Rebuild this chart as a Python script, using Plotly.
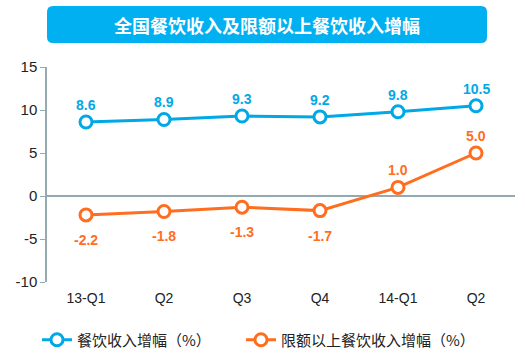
import plotly.graph_objects as go

categories = ["13-Q1", "Q2", "Q3", "Q4", "14-Q1", "Q2 "]
tick_text = ["13-Q1", "Q2", "Q3", "Q4", "14-Q1", "Q2"]
catering_growth = [8.6, 8.9, 9.3, 9.2, 9.8, 10.5]
above_limit_growth = [-2.2, -1.8, -1.3, -1.7, 1.0, 5.0]
y_ticks = [-10, -5, 0, 5, 10, 15]
y_tick_text = ["-10", "-5", "0", "5", "10", "15"]
series_names = ["餐饮收入增幅（%）", "限额以上餐饮收入增幅（%）"]
title_text = "全国餐饮收入及限额以上餐饮收入增幅"

BLUE = "#00A9E6"
ORANGE = "#FF6E1F"
AXIS = "#95AAB0"
FONT = "Liberation Sans, Arial, Noto Sans CJK SC"

W, H = 525, 355
L, R, T, B = 47, 10, 67, 73
pw, ph = W - L - R, H - T - B

def px(x):
    return (x - L) / pw

def py(y):
    return (H - B - y) / ph

fig = go.Figure()
fig.add_trace(go.Scatter(
    x=categories, y=catering_growth, name=series_names[0],
    mode="lines+markers", legend="legend",
    line=dict(color=BLUE, width=3),
    marker=dict(symbol="circle", size=12, color="white", line=dict(color=BLUE, width=3)),
    cliponaxis=False,
))
fig.add_trace(go.Scatter(
    x=categories, y=above_limit_growth, name=series_names[1],
    mode="lines+markers", legend="legend2",
    line=dict(color=ORANGE, width=3),
    marker=dict(symbol="circle", size=12, color="white", line=dict(color=ORANGE, width=3)),
    cliponaxis=False,
))

for c, v in zip(categories, catering_growth):
    fig.add_annotation(x=c, y=v, text=f"{v:.1f}", showarrow=False, yshift=17,
                       font=dict(color=BLUE, size=14, family=FONT, weight="bold"))
for c, v in zip(categories, above_limit_growth):
    fig.add_annotation(x=c, y=v, text=f"{v:.1f}", showarrow=False,
                       yshift=(-25 if v < 0 else 17),
                       font=dict(color=ORANGE, size=14, family=FONT, weight="bold"))

# rounded title box
x0, x1, y0, y1, r = 47, 487, 6, 43, 6
rx, ry = r / pw, r / ph
X0, X1, Y0, Y1 = px(x0), px(x1), py(y0), py(y1)
path = (f"M {X0+rx},{Y0} L {X1-rx},{Y0} Q {X1},{Y0} {X1},{Y0-ry} "
        f"L {X1},{Y1+ry} Q {X1},{Y1} {X1-rx},{Y1} L {X0+rx},{Y1} "
        f"Q {X0},{Y1} {X0},{Y1+ry} L {X0},{Y0-ry} Q {X0},{Y0} {X0+rx},{Y0} Z")
fig.add_shape(type="path", path=path, xref="paper", yref="paper",
              fillcolor="#00B0F0", line=dict(width=0), layer="above")
fig.add_annotation(text=title_text, xref="paper", yref="paper",
                   x=(X0 + X1) / 2, y=(Y0 + Y1) / 2, showarrow=False,
                   font=dict(color="white", size=18, family="Noto Sans CJK SC", weight="bold"),
                   xanchor="center", yanchor="middle")

legend_style = dict(orientation="h", xanchor="left", yanchor="middle",
                    font=dict(size=15, family="Noto Sans CJK SC, Liberation Sans", color="#222222"),
                    itemwidth=30, bgcolor="rgba(0,0,0,0)")

fig.update_layout(
    width=W, height=H,
    margin=dict(l=L, r=R, t=T, b=B, autoexpand=False),
    paper_bgcolor="white", plot_bgcolor="white",
    font=dict(family=FONT, size=14, color="#222222"),
    showlegend=True,
    legend=dict(x=px(37), y=py(340), **legend_style),
    legend2=dict(x=px(241), y=py(340), **legend_style),
    xaxis=dict(type="category", range=[-0.5, 5.5], tickvals=categories, ticktext=tick_text,
               showgrid=False, showline=False, zeroline=False, ticks="", automargin=False,
               ticklabelstandoff=6,
               tickfont=dict(size=14, color="#222222")),
    yaxis=dict(range=[-10, 15], tickvals=y_ticks, ticktext=y_tick_text, showgrid=False,
               showline=True, linecolor=AXIS, linewidth=1.5, automargin=False,
               ticks="outside", ticklen=5, tickcolor=AXIS,
               zeroline=True, zerolinecolor=AXIS, zerolinewidth=1.5,
               tickfont=dict(size=15, color="#222222")),
)

fig.write_html("out.html", config={"displayModeBar": False},
               post_script="document.body.style.margin='0';")
